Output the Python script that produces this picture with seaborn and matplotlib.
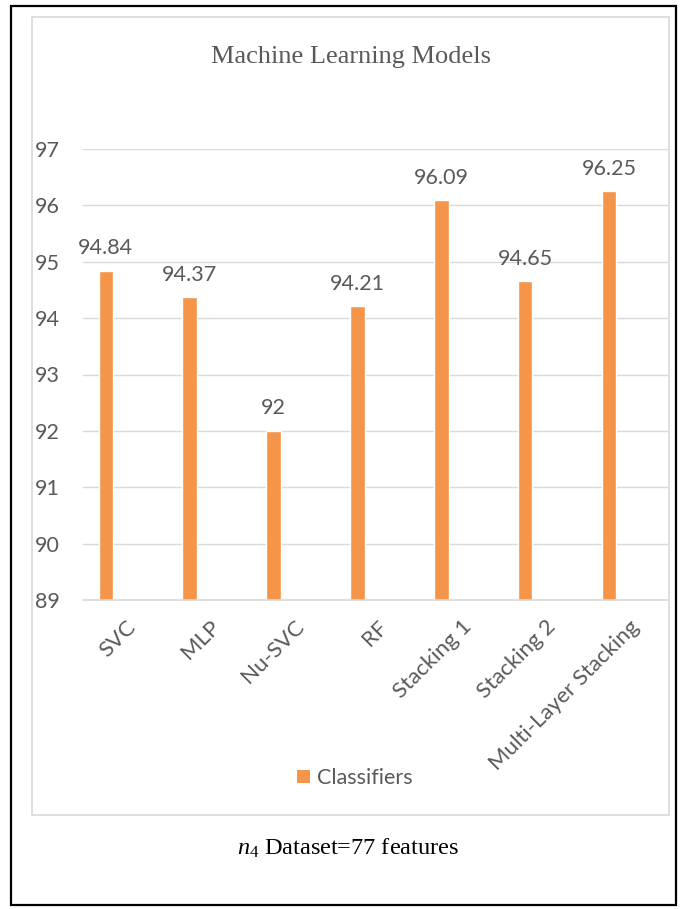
import matplotlib
matplotlib.use("Agg")
import matplotlib.pyplot as plt
import matplotlib.transforms as mtransforms
from matplotlib.patches import Patch, Rectangle
import pandas as pd
import seaborn as sns

models = ["SVC", "MLP", "Nu-SVC", "RF", "Stacking 1", "Stacking 2", "Multi-Layer Stacking"]
accuracy = [94.84, 94.37, 92, 94.21, 96.09, 94.65, 96.25]
value_labels = ["94.84", "94.37", "92", "94.21", "96.09", "94.65", "96.25"]
y_ticks = [89, 90, 91, 92, 93, 94, 95, 96, 97]
series_name = "Classifiers"

BAR = "#F5954A"
GRID = "#D9D9D9"
TEXT = "#595959"

sns.set_theme(style="white")
plt.rcParams["font.family"] = ["Lato", "DejaVu Sans"]
plt.rcParams["mathtext.fontset"] = "custom"
plt.rcParams["mathtext.rm"] = "Liberation Serif"
plt.rcParams["mathtext.it"] = "Liberation Serif:italic"

W, H = 684, 909
fig = plt.figure(figsize=(W / 100, H / 100), dpi=100)
fig.patch.set_facecolor("white")

# outer frame and chart-area frame
fig.add_artist(Rectangle((11 / W, 1 - 905 / H), 665 / W, 899 / H, transform=fig.transFigure,
                         fill=False, edgecolor="black", linewidth=1.6))
fig.add_artist(Rectangle((32 / W, 1 - 815 / H), 637 / W, 798 / H, transform=fig.transFigure,
                         fill=False, edgecolor=GRID, linewidth=1.2))

ax = fig.add_axes([83 / W, 1 - 600 / H, 585 / W, 451 / H])
df = pd.DataFrame({"model": models, "accuracy": accuracy})
sns.barplot(data=df, x="model", y="accuracy", color=BAR, saturation=1, width=0.17, ax=ax)

ax.set_ylim(89, 97)
ax.set_xlim(-0.27, 6.70)
ax.set_yticks(y_ticks)
ax.set_yticklabels([str(t) for t in y_ticks])
ax.set_xlabel("")
ax.set_ylabel("")
ax.set_axisbelow(True)
ax.yaxis.grid(True, color=GRID, linewidth=1.0)
ax.xaxis.grid(False)
for side in ["top", "right", "left"]:
    ax.spines[side].set_visible(False)
ax.spines["bottom"].set_color(GRID)
ax.spines["bottom"].set_linewidth(1.2)
ax.tick_params(axis="y", length=0, pad=17, labelsize=15.5, labelcolor=TEXT)
ax.tick_params(axis="x", length=0, pad=12, labelsize=16, labelcolor=TEXT)

offset = mtransforms.ScaledTranslation(0.20, 0, fig.dpi_scale_trans)
for lbl in ax.get_xticklabels():
    lbl.set_rotation(45)
    lbl.set_ha("right")
    lbl.set_rotation_mode("anchor")
    lbl.set_transform(lbl.get_transform() + offset)

for i, (v, t) in enumerate(zip(accuracy, value_labels)):
    ax.annotate(t, xy=(i, v), xytext=(0, 9), textcoords="offset points",
                ha="center", va="bottom", fontsize=15.5, color=TEXT)

fig.text(351 / W, 1 - 57 / H, "Machine Learning Models", ha="center", va="center",
         fontsize=19, color=TEXT, family=["Liberation Serif"])

fig.legend(handles=[Patch(facecolor=BAR, edgecolor="none", label=series_name)],
           loc="center", bbox_to_anchor=(355 / W, 1 - 778 / H), frameon=False,
           fontsize=15.5, handlelength=0.6, handleheight=0.6, handletextpad=0.35,
           labelcolor=TEXT)

fig.text(348 / W, 1 - 848 / H, r"$\mathit{n}_{\mathit{4}}$ Dataset=77 features",
         ha="center", va="center", fontsize=17.5, color="black", family=["Liberation Serif"])

fig.savefig("out.png", dpi=100, facecolor="white")
